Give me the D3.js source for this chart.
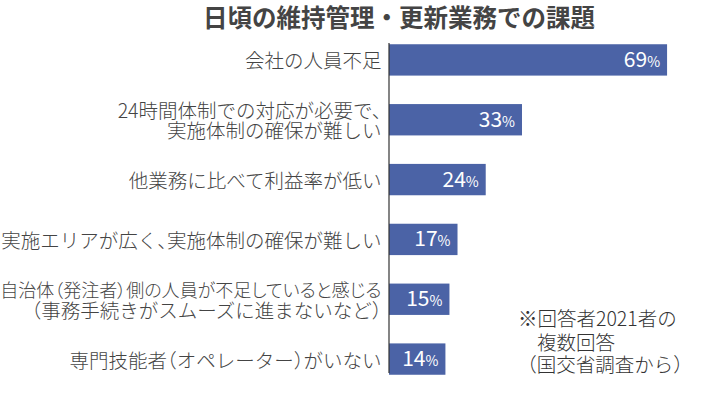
<!DOCTYPE html>
<html><head><meta charset="utf-8">
<script src="https://cdn.jsdelivr.net/npm/d3@7"></script>
<style>
html,body{margin:0;padding:0;background:#fff;}
svg{display:block;font-family:"Noto Sans CJK JP","Noto Sans",sans-serif;}
.h{font-feature-settings:"halt";}
.p{font-feature-settings:"palt";}
</style></head>
<body>
<svg id="c" width="723" height="400"></svg>
<script>
const title = "日頃の維持管理・更新業務での課題";
const categories = [
  "会社の人員不足",
  "24時間体制での対応が必要で、\n実施体制の確保が難しい",
  "他業務に比べて利益率が低い",
  "実施エリアが広く、実施体制の確保が難しい",
  "自治体（発注者）側の人員が不足していると感じる\n（事務手続きがスムーズに進まないなど）",
  "専門技能者（オペレーター）がいない"
];
const values = [69, 33, 24, 17, 15, 14];
const noteLines = ["※回答者2021者の", "複数回答", "（国交省調査から）"];

const svg = d3.select("#c");
const x = d3.scaleLinear().domain([0, 100]).range([389, 792]);
const y = d3.scaleBand().domain(categories).range([30, 389]).paddingInner(0.476).paddingOuter(0.238);

svg.append("text").attr("x", 399).attr("y", 16).attr("text-anchor", "middle")
  .attr("dominant-baseline", "central").attr("font-size", 24.5).attr("font-weight", "bold")
  .attr("fill", "#444").text(title);

svg.selectAll("rect.bar").data(values).enter().append("rect")
  .attr("class", "bar")
  .attr("x", x(0)).attr("y", (d, i) => y(categories[i]))
  .attr("width", d => x(d) - x(0)).attr("height", y.bandwidth())
  .attr("fill", "#4b63a6");

svg.append("line").attr("x1", x(0)).attr("x2", x(0)).attr("y1", 43).attr("y2", 373)
  .attr("stroke", "#333").attr("stroke-width", 1.2);

const vl = svg.selectAll("text.val").data(values).enter().append("text")
  .attr("class", "val")
  .attr("x", d => x(d) - 7).attr("y", (d, i) => y(categories[i]) + y.bandwidth() / 2 + 7)
  .attr("text-anchor", "end").attr("fill", "#fff");
vl.append("tspan").attr("font-size", 21).text(d => d);
vl.append("tspan").attr("font-size", 14).text("%");

const FS = 19.5, MAXW = 381.5;
categories.forEach((c, i) => {
  const lines = c.split("\n");
  const cy = y(c) + y.bandwidth() / 2;
  lines.forEach((ln, j) => {
    const t = svg.append("text").attr("class", "h").attr("x", 381.5)
      .attr("y", cy + (j - (lines.length - 1) / 2) * 20)
      .attr("dominant-baseline", "central").attr("text-anchor", "end")
      .attr("font-size", FS).attr("font-weight", 300).attr("fill", "#444").text(ln);
    let w = t.node().getComputedTextLength();
    if (w > MAXW) {
      t.attr("class", "p");
      w = t.node().getComputedTextLength();
      if (w > MAXW) t.attr("font-size", FS * MAXW / w);
    }
  });
});

const noteX = [518, 537, 527];
const noteY = [317, 341, 363];
noteLines.forEach((t, i) => {
  svg.append("text").attr("class", i === 2 ? "h" : null).attr("x", noteX[i]).attr("y", noteY[i]).attr("dominant-baseline", "central")
    .attr("font-size", 19.5).attr("font-weight", 300).attr("fill", "#333").text(t);
});
</script>
</body></html>
